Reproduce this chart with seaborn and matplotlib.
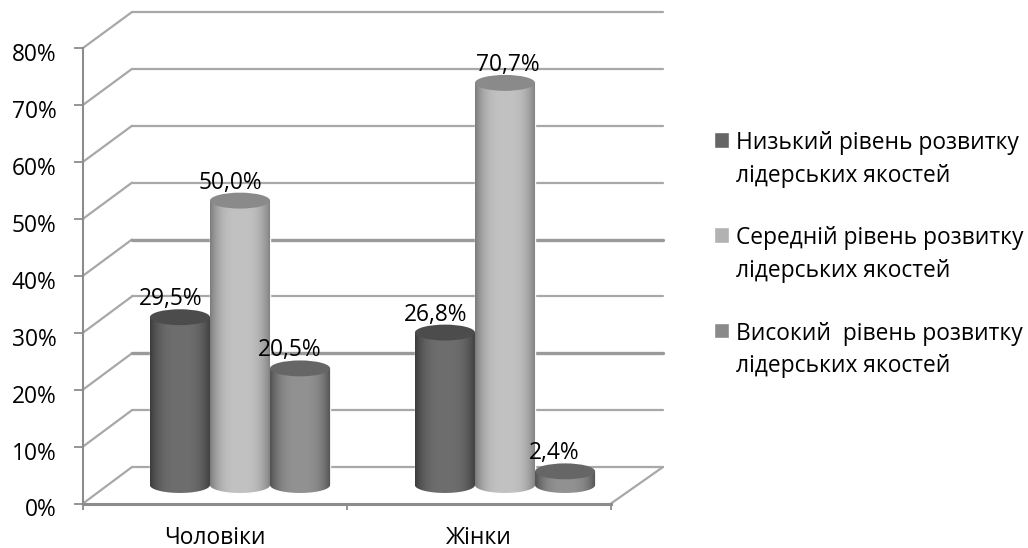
#!/usr/bin/env python

import numpy as np
import pandas as pd
import seaborn as sb
import matplotlib.pyplot as plt
from matplotlib.colors import to_rgb
from matplotlib.patches import ConnectionPatch, Ellipse, PathPatch
from matplotlib.path import Path
from matplotlib.ticker import PercentFormatter
from matplotlib.transforms import ScaledTranslation

groups = ['Чоловіки', 'Жінки']
series_names = ['Низький рівень розвитку\nлідерських якостей',
                'Середній рівень розвитку\nлідерських якостей',
                'Високий  рівень розвитку\nлідерських якостей']
low_values = [29.5, 26.8]
mid_values = [50.0, 70.7]
high_values = [20.5, 2.4]
y_ticks = [0, 10, 20, 30, 40, 50, 60, 70, 80]

W, H = 1028, 548
FS = 16.4
GRID = '#a8a8a8'
AXIS = '#8c8c8c'
legend_colours = ['#666666', '#b2b2b2', '#8a8a8a']
edge_shades = ['#3c3c3c', '#7c7c7c', '#505050']
centre_shades = [0x6e, 0xc2, 0x92]
top_colours = ['#4c4c4c', '#8a8a8a', '#666666']
# sideways nudge of each label in pixels, in drawing order
label_shift = [[-9, -9], [-10, 3], [-10, -11]]

sb.set_theme(style='white')
plt.rcParams['font.family'] = ['Open Sans', 'DejaVu Sans']


def box(left, bottom_px, right, top_px):
    return [left / W, 1 - bottom_px / H, (right - left) / W, (bottom_px - top_px) / H]


def blank(ax):
    ax.patch.set_alpha(0)
    ax.set_xlim(-0.5, 1.5)
    ax.set_ylim(0, 80)
    ax.set_xlabel('')
    ax.set_ylabel('')


df = pd.DataFrame({
    'group': groups * 3,
    'series': np.repeat(series_names, 2),
    'value': low_values + mid_values + high_values,
})

fig = plt.figure(figsize=(W / 100, H / 100), dpi=100)

# three copies of the axes, one per depth of the fake 3D box
back = fig.add_axes(box(132, 467, 663, 12), zorder=1)
front = fig.add_axes(box(83, 503.5, 611, 48), zorder=2)
mid = fig.add_axes(box(107.5, 485, 637.5, 30), zorder=3)

# back wall
blank(back)
back.set_yticks(y_ticks)
back.set_xticks([])
back.grid(axis='y', color=GRID, lw=1.6)
back.tick_params(left=False, labelleft=False)
sb.despine(ax=back, left=True, bottom=True)
for val, line in zip(y_ticks, back.get_ygridlines()):
    line.set_clip_on(False)
    if val in (20, 40):
        line.set_linewidth(2.4)
        line.set_color('#9a9a9a')

# front axis
blank(front)
sb.despine(ax=front, right=True, top=True)
for side in ('left', 'bottom'):
    front.spines[side].set_color(AXIS)
    front.spines[side].set_linewidth(1.5)
front.spines['bottom'].set_linewidth(2.2)
front.set_yticks(y_ticks)
front.yaxis.set_major_formatter(PercentFormatter(decimals=0))
front.set_xticks([-0.5, 0.5, 1.5])
front.set_xticklabels([])
front.set_xticks([0, 1], labels=groups, minor=True)
front.tick_params(axis='y', which='major', length=6.5, width=1.3, color=AXIS, left=True,
                  labelsize=FS, pad=12.5, labelcolor='black')
front.tick_params(axis='x', which='major', length=4, width=1.3, color=AXIS, bottom=True)
front.tick_params(axis='x', which='minor', length=0, labelsize=FS, pad=16, labelcolor='black')
# the percent labels sit a little below their ticks
nudge = ScaledTranslation(0, -4 / 100, fig.dpi_scale_trans)
for lab in front.get_yticklabels():
    lab.set_transform(lab.get_transform() + nudge)

# side wall and floor edge
for val in y_ticks:
    fig.add_artist(ConnectionPatch((-0.5, val), (-0.5, val), 'data', 'data',
                                   axesA=front, axesB=back, color=GRID, lw=1.6))
fig.add_artist(ConnectionPatch((1.5, 0), (1.5, 0), 'data', 'data',
                               axesA=front, axesB=back, color=GRID, lw=1.6))

# bars
sb.barplot(data=df, x='group', y='value', hue='series', hue_order=series_names,
           palette=legend_colours, width=0.68, gap=0, saturation=1, ax=mid)
handles, labels = mid.get_legend_handles_labels()
mid.get_legend().remove()
blank(mid)
mid.set_xticks([])
mid.set_yticks([])
sb.despine(ax=mid, left=True, bottom=True)

DY = 1.4  # half height of the cylinder ellipse, in percent
t = np.linspace(0, np.pi, 60)
for k, cont in enumerate(mid.containers):
    edge = np.array(to_rgb(edge_shades[k]))
    centre = np.full(3, centre_shades[k] / 255)
    u = np.abs(np.linspace(-1, 1, 120)) ** 3
    strip = (centre[None, :] * (1 - u[:, None]) + edge[None, :] * u[:, None])[None, :, :]
    for j, bar in enumerate(cont.patches):
        x0, w, h = bar.get_x(), bar.get_width(), bar.get_height()
        xc = x0 + w / 2
        outline = np.column_stack([
            np.r_[xc + w / 2 * np.cos(t), x0, x0 + w, x0 + w],
            np.r_[-DY * np.sin(t), h, h, 0],
        ])
        clip = PathPatch(Path(outline), transform=mid.transData, fc='none', ec='none')
        im = mid.imshow(strip, extent=[x0, x0 + w, -DY, h], aspect='auto', zorder=3 + k * 0.1)
        im.set_clip_box(fig.bbox)
        im.set_clip_path(clip)
        mid.add_patch(Ellipse((xc, h), w, 2 * DY, fc=top_colours[k], ec='none',
                              zorder=3.05 + k * 0.1, clip_on=False))
        mid.annotate(f'{h:.1f}%'.replace('.', ','), (xc, h), xytext=(label_shift[k][j], 18),
                     textcoords='offset pixels', ha='center', va='center',
                     fontsize=FS, color='black', zorder=6, annotation_clip=False)
blank(mid)

leg = fig.legend(handles, labels, loc='upper left', bbox_to_anchor=(714 / W, 1 - 131 / H),
                 frameon=False, fontsize=FS, labelcolor='black', handlelength=0.68, handleheight=0.68,
                 handletextpad=0.28, labelspacing=1.7, borderaxespad=0, borderpad=0)
for txt in leg.get_texts():
    txt.set_linespacing(1.48)
# square sits next to the first line of its label
for p in leg.get_patches():
    p.set_y(p.get_y() + 14.8)

plt.savefig('out.png', dpi=100)
